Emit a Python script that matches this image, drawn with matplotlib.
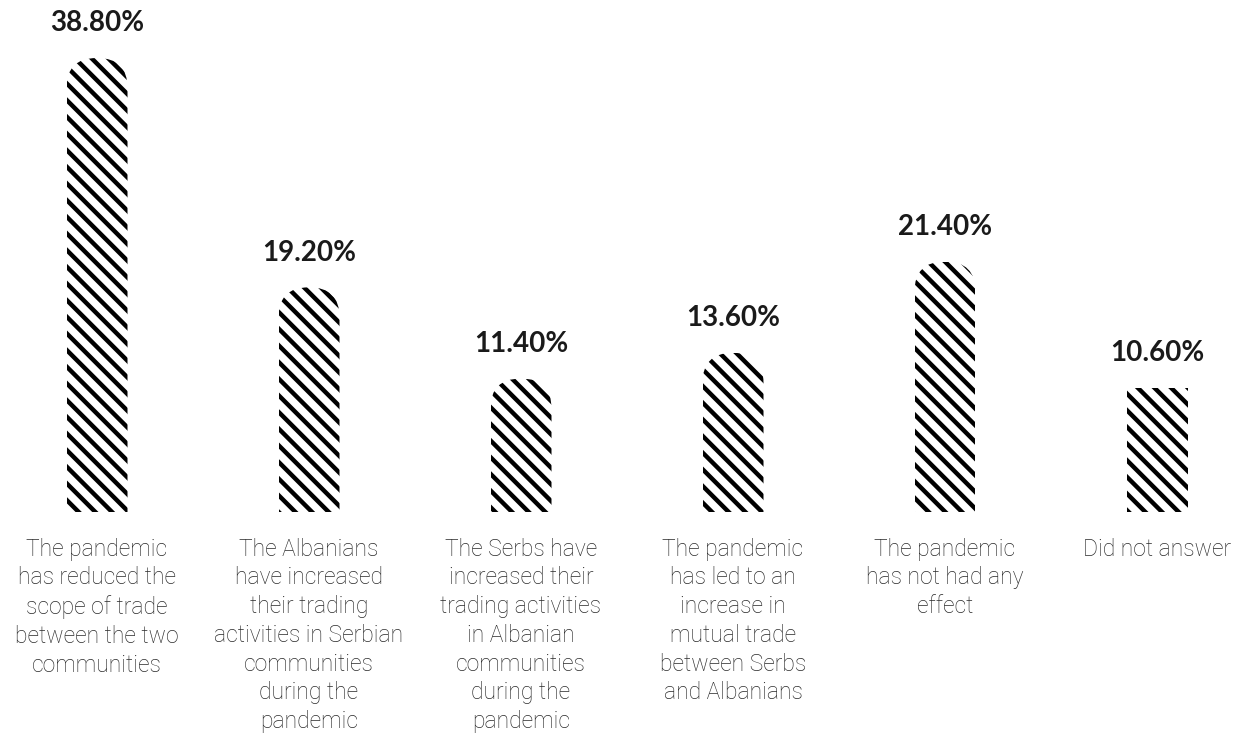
import matplotlib
matplotlib.use("Agg")
import matplotlib.pyplot as plt
from matplotlib.patches import FancyBboxPatch

categories = [
    "The pandemic\nhas reduced the\nscope of trade\nbetween the two\ncommunities",
    "The Albanians\nhave increased\ntheir trading\nactivities in Serbian\ncommunities\nduring the\npandemic",
    "The Serbs have\nincreased their\ntrading activities\nin Albanian\ncommunities\nduring the\npandemic",
    "The pandemic\nhas led to an\nincrease in\nmutual trade\nbetween Serbs\nand Albanians",
    "The pandemic\nhas not had any\neffect",
    "Did not answer",
]
values = [38.8, 19.2, 11.4, 13.6, 21.4, 10.6]
value_labels = ["38.80%", "19.20%", "11.40%", "13.60%", "21.40%", "10.60%"]

plt.rcParams["hatch.color"] = "black"
plt.rcParams["hatch.linewidth"] = 3.2

W, H, DPI = 12.5, 7.48, 100
fig = plt.figure(figsize=(W, H), dpi=DPI)
fig.patch.set_facecolor("white")

base_px = 236          # baseline height above bottom edge, pixels
px_per_unit = 11.7     # vertical pixels per percentage point
step_px = 212          # horizontal pixels between bar centres
first_px = 97

ax = fig.add_axes([0, base_px / (H * DPI), 1, 1 - base_px / (H * DPI)])
ax.set_xlim(-first_px / step_px, (W * DPI - first_px) / step_px)
ax.set_ylim(0, (H * DPI - base_px) / px_per_unit)
ax.axis("off")

x = list(range(len(values)))
bar_w = 61 / step_px
bars = ax.bar(x, values, width=bar_w, color="white", edgecolor="black",
              linewidth=0, hatch="\\\\")

# rounded tops: clip each bar to a box with round corners
r_px = 30
r_x = r_px / step_px
r_y = r_px / px_per_unit
for i, (b, v) in enumerate(zip(bars, values)):
    if i == len(values) - 1:
        continue
    clip = FancyBboxPatch((b.get_x(), -2 * r_y), b.get_width(), v + 2 * r_y,
                          boxstyle=f"round,pad=0,rounding_size={r_x}",
                          mutation_aspect=r_y / r_x,
                          transform=ax.transData, facecolor="none",
                          edgecolor="none")
    b.set_clip_path(clip)

for xi, v, lab in zip(x, values, value_labels):
    ax.annotate(lab, (xi, v), xytext=(0, 25), textcoords="offset points",
                ha="center", va="center", fontsize=20, fontweight="bold",
                family="Lato", color="#1a1a1a")

for xi, cat in zip(x, categories):
    ax.annotate(cat, (xi, 0), xytext=(0, -18.5), textcoords="offset points",
                ha="center", va="top", fontsize=16.5, fontweight="light",
                family=["Roboto", "DejaVu Sans"], color="#2a2a2a",
                linespacing=1.32, annotation_clip=False)

fig.savefig("out.png", dpi=DPI, facecolor="white")
